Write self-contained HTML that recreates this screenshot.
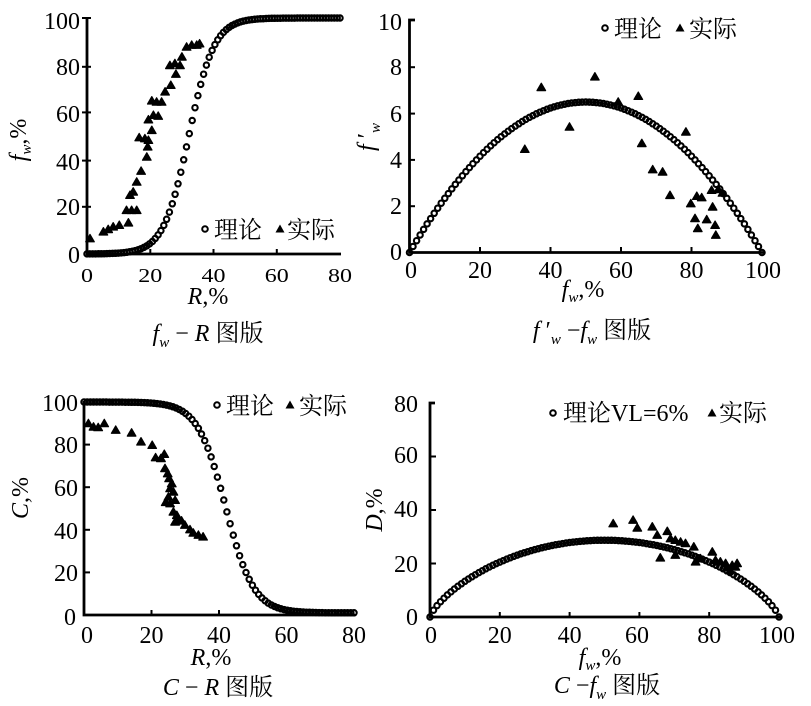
<!DOCTYPE html>
<html><head><meta charset="utf-8">
<style>
html,body{margin:0;padding:0;background:#fff;}
svg{display:block;}
text{font-family:"Liberation Serif","Noto Serif CJK SC",serif;fill:#000;font-size:24px;}
.cj{font-family:"Liberation Serif","Noto Serif CJK SC",serif;}
.ax{stroke:#000;stroke-width:2.8;fill:none;}
.tk{stroke:#000;stroke-width:2;}
</style></head><body>
<svg id="s" width="811" height="706" viewBox="0 0 811 706" xmlns="http://www.w3.org/2000/svg">
<rect width="811" height="706" fill="#fff"/>

<!-- ============ Chart 1: fw - R ============ -->
<path class="ax" d="M87,17 L87,254 L341,254"/>
<g class="tk">
<line x1="82" y1="18" x2="91" y2="18"/>
<line x1="82" y1="66.8" x2="91" y2="66.8"/>
<line x1="82" y1="112.4" x2="91" y2="112.4"/>
<line x1="82" y1="160.6" x2="91" y2="160.6"/>
<line x1="82" y1="206.8" x2="91" y2="206.8"/>
<line x1="150.3" y1="249" x2="150.3" y2="254"/>
<line x1="213.5" y1="249" x2="213.5" y2="254"/>
<line x1="276.8" y1="249" x2="276.8" y2="254"/>
</g>
<g text-anchor="end">
<text x="80" y="29">100</text>
<text x="80" y="75">80</text>
<text x="80" y="122">60</text>
<text x="80" y="170">40</text>
<text x="80" y="215">20</text>
<text x="80" y="263">0</text>
</g>
<g transform="translate(0,282) scale(1,0.82)" text-anchor="middle">
<text x="87" y="0">0</text>
<text x="150.3" y="0">20</text>
<text x="213.5" y="0">40</text>
<text x="276.8" y="0">60</text>
<text x="340" y="0">80</text>
</g>
<text x="208" y="304" text-anchor="middle" font-size="23"><tspan font-style="italic">R</tspan>,%</text>
<text x="208" y="341" text-anchor="middle" class="cj"><tspan font-style="italic">f</tspan><tspan font-style="italic" font-size="15" dy="6">w</tspan><tspan dy="-6"> − </tspan><tspan font-style="italic">R</tspan> 图版</text>
<text transform="translate(26,140) rotate(-90)" text-anchor="middle" font-size="23"><tspan font-style="italic">f</tspan><tspan font-style="italic" font-size="15" dy="5">w</tspan><tspan dy="-5">,%</tspan></text>
<circle cx="205" cy="229" r="2.8" fill="none" stroke="#000" stroke-width="2"/>
<text x="214" y="238" class="cj">理论</text>
<path d="M275.5,232.5 L280,224.5 L284.5,232.5Z" fill="#000"/>
<text x="287" y="238" class="cj">实际</text>

<!-- ============ Chart 2: f'w - fw ============ -->
<path class="ax" d="M415,20 L409.5,20 L409.5,252.5 L764,252.5"/>
<g class="tk">
<line x1="409.5" y1="67.2" x2="415" y2="67.2"/>
<line x1="409.5" y1="113.6" x2="415" y2="113.6"/>
<line x1="409.5" y1="159.9" x2="415" y2="159.9"/>
<line x1="409.5" y1="206.2" x2="415" y2="206.2"/>
<line x1="480" y1="247" x2="480" y2="252.5"/>
<line x1="550.5" y1="247" x2="550.5" y2="252.5"/>
<line x1="621" y1="247" x2="621" y2="252.5"/>
<line x1="691.5" y1="247" x2="691.5" y2="252.5"/>
</g>
<g text-anchor="end">
<text x="402" y="30">10</text>
<text x="402" y="75">8</text>
<text x="402" y="122">6</text>
<text x="402" y="168">4</text>
<text x="402" y="214">2</text>
<text x="402" y="260">0</text>
</g>
<g text-anchor="middle">
<text x="411" y="278">0</text>
<text x="480" y="278">20</text>
<text x="550.5" y="278">40</text>
<text x="621" y="278">60</text>
<text x="691.5" y="278">80</text>
<text x="763" y="278">100</text>
</g>
<text x="583" y="297" text-anchor="middle" font-size="23"><tspan font-style="italic">f</tspan><tspan font-style="italic" font-size="15" dy="5">w</tspan><tspan dy="-5">,%</tspan></text>
<text x="592" y="338" text-anchor="middle" class="cj"><tspan font-style="italic">f</tspan> ′<tspan font-style="italic" font-size="15" dy="6">w</tspan><tspan dy="-6"> −</tspan><tspan font-style="italic">f</tspan><tspan font-style="italic" font-size="15" dy="6">w</tspan><tspan dy="-6"> 图版</tspan></text>
<text transform="translate(374,137) rotate(-90)" text-anchor="middle" font-size="23"><tspan font-style="italic">f</tspan> ′<tspan font-style="italic" font-size="15" dy="6">w</tspan></text>
<circle cx="605" cy="28" r="2.8" fill="none" stroke="#000" stroke-width="2"/>
<text x="614" y="37" class="cj">理论</text>
<path d="M675.5,31.5 L680,23.5 L684.5,31.5Z" fill="#000"/>
<text x="689" y="37" class="cj">实际</text>

<!-- ============ Chart 3: C - R ============ -->
<path class="ax" d="M84,401 L84,615 L355,615"/>
<g class="tk">
<line x1="84" y1="444.6" x2="90" y2="444.6"/>
<line x1="84" y1="487.2" x2="90" y2="487.2"/>
<line x1="84" y1="529.8" x2="90" y2="529.8"/>
<line x1="84" y1="572.4" x2="90" y2="572.4"/>
<line x1="151.5" y1="610" x2="151.5" y2="615"/>
<line x1="219" y1="610" x2="219" y2="615"/>
<line x1="286.5" y1="610" x2="286.5" y2="615"/>
</g>
<g text-anchor="end">
<text x="78" y="411">100</text>
<text x="78" y="453">80</text>
<text x="78" y="496">60</text>
<text x="78" y="539">40</text>
<text x="78" y="581">20</text>
<text x="76" y="625">0</text>
</g>
<g text-anchor="middle">
<text x="87" y="643">0</text>
<text x="151.5" y="643">20</text>
<text x="219" y="643">40</text>
<text x="286.5" y="643">60</text>
<text x="354" y="643">80</text>
</g>
<text x="211" y="665" text-anchor="middle" font-size="23"><tspan font-style="italic">R</tspan>,%</text>
<text x="218" y="695" text-anchor="middle" class="cj"><tspan font-style="italic">C</tspan> − <tspan font-style="italic">R</tspan> 图版</text>
<text transform="translate(28,498) rotate(-90)" text-anchor="middle" font-size="23"><tspan font-style="italic">C</tspan>,%</text>
<circle cx="217" cy="405" r="2.8" fill="none" stroke="#000" stroke-width="2"/>
<text x="226" y="414" class="cj">理论</text>
<path d="M285.5,408.5 L290,400.5 L294.5,408.5Z" fill="#000"/>
<text x="299" y="414" class="cj">实际</text>

<!-- ============ Chart 4: D - fw ============ -->
<path class="ax" d="M435,403 L430,403 L430,617 L781,617"/>
<g class="tk">
<line x1="430" y1="456.5" x2="436" y2="456.5"/>
<line x1="430" y1="510" x2="436" y2="510"/>
<line x1="430" y1="563.5" x2="436" y2="563.5"/>
<line x1="499.8" y1="612" x2="499.8" y2="617"/>
<line x1="569.6" y1="612" x2="569.6" y2="617"/>
<line x1="639.4" y1="612" x2="639.4" y2="617"/>
<line x1="709.2" y1="612" x2="709.2" y2="617"/>
</g>
<g text-anchor="end">
<text x="418" y="412">80</text>
<text x="418" y="463">60</text>
<text x="418" y="517">40</text>
<text x="418" y="572">20</text>
<text x="418" y="625">0</text>
</g>
<g text-anchor="middle">
<text x="431" y="643">0</text>
<text x="499.8" y="643">20</text>
<text x="569.6" y="643">40</text>
<text x="637" y="643">60</text>
<text x="709.2" y="643">80</text>
<text x="777" y="643">100</text>
</g>
<text x="600" y="665" text-anchor="middle" font-size="23"><tspan font-style="italic">f</tspan><tspan font-style="italic" font-size="15" dy="5">w</tspan><tspan dy="-5">,%</tspan></text>
<text x="607" y="693" text-anchor="middle" class="cj"><tspan font-style="italic">C</tspan> −<tspan font-style="italic">f</tspan><tspan font-style="italic" font-size="15" dy="6">w</tspan><tspan dy="-6"> 图版</tspan></text>
<text transform="translate(382,510) rotate(-90)" text-anchor="middle" font-size="23"><tspan font-style="italic">D</tspan>,%</text>
<circle cx="553" cy="413" r="2.8" fill="none" stroke="#000" stroke-width="2"/>
<text x="563" y="421" class="cj">理论VL=6%</text>
<path d="M707.5,416.5 L712,408.5 L716.5,416.5Z" fill="#000"/>
<text x="719" y="421" class="cj">实际</text>

<g id="m"></g>
</svg>
<script>
(function(){
var NS="http://www.w3.org/2000/svg";
var g=document.getElementById('m');
function circ(x,y){var c=document.createElementNS(NS,'circle');c.setAttribute('cx',x.toFixed(1));c.setAttribute('cy',y.toFixed(1));c.setAttribute('r','2.7');c.setAttribute('fill','none');c.setAttribute('stroke','#000');c.setAttribute('stroke-width','2.1');g.appendChild(c);}
function tri(x,y){var p=document.createElementNS(NS,'path');p.setAttribute('d','M'+(x-4.3).toFixed(1)+','+(y+3.4).toFixed(1)+' L'+x.toFixed(1)+','+(y-4).toFixed(1)+' L'+(x+4.3).toFixed(1)+','+(y+3.4).toFixed(1)+'Z');p.setAttribute('fill','#000');p.setAttribute('stroke','#000');p.setAttribute('stroke-width','1.2');p.setAttribute('stroke-linejoin','round');g.appendChild(p);}
var i,R,f,p;
/* chart 1 */
function X1(r){return 87+3.1625*r;} function Y1(v){return 254-2.36*v;}
for(i=0;i<90;i++){R=80*i/89;f=100/(1+Math.exp(-0.25*(R-32.2)));circ(X1(R),Y1(f));}
var c1=[[0.95,6.6],[5.2,9.5],[6.7,10.5],[8.3,11.6],[10.2,12.3],[13.1,13.3],[12.5,18.6],[14.1,18.6],[15.7,18.6],[13.6,25],[14.6,26.4],[15.7,30.6],[17.1,35.2],[18.9,41.2],[16.5,49.4],[18.3,49],[19.4,48.3],[19.2,45.5],[20.5,52.5],[19.4,57],[21,58.9],[22.5,58.5],[20.5,65],[22,64.5],[23.6,64.5],[24.7,68.8],[26.5,71.6],[26.2,80],[27.8,80.8],[29.4,80],[28.1,76.3],[30,83.6],[31.5,87.8],[33.1,88.6],[34.7,88.6],[35.6,89.2]];
c1.forEach(function(d){tri(X1(d[0]),Y1(d[1]));});
/* chart 2 */
function X2(v){return 409.5+3.525*v;} function Y2(v){return 252.5-23.15*v;}
for(i=0;i<=100;i++){p=i/100;f=26*p*(1-p);circ(X2(i),Y2(f));}
var c2=[[32.7,4.47],[37.4,7.14],[45.4,5.43],[52.6,7.6],[59.2,6.51],[64.9,6.76],[65.9,4.72],[69,3.59],[71.8,3.49],[73.9,2.48],[78.4,5.22],[79.8,2.12],[81.5,2.44],[82.9,2.38],[81,1.48],[84.3,1.43],[81.8,1.05],[86,1.98],[86.7,1.19],[86.9,0.76],[85.7,2.7],[87.6,2.73],[88.8,2.58]];
c2.forEach(function(d){tri(X2(d[0]),Y2(d[1]));});
/* chart 3 */
function X3(r){return 84+3.375*r;} function Y3(v){return 615-2.13*v;}
for(i=0;i<=85;i++){R=80*i/85;f=1+99/(1+Math.exp(0.24*(R-42)));circ(X3(R),Y3(f));}
var c3=[[1.3,90],[2.8,88.4],[4.2,88.1],[6,90],[9.4,86.9],[14.1,85.6],[16.9,81.4],[20.2,79.8],[21.2,74],[22.8,73.6],[23.8,75.6],[24,68.9],[24.8,66.5],[25.2,64.2],[26,61.8],[25.5,59.5],[26.5,57.9],[25,55.5],[27,54],[25.5,52.4],[24.2,53],[26.5,48.5],[27.5,46.9],[28,44.9],[27,43.8],[28.9,44.3],[29.9,42.3],[31.4,40.2],[32.4,38.6],[33.9,37.6],[35.3,36.8]];
c3.forEach(function(d){tri(X3(d[0]),Y3(d[1]));});
/* chart 4 */
function X4(v){return 430+3.49*v;} function Y4(v){return 617-2.675*v;}
for(i=0;i<=100;i++){p=i/100;f=28.7*Math.pow(4*p*(1-p),0.75);circ(X4(i),Y4(f));}
var c4=[[52.5,35],[58.2,36.3],[59.4,33.4],[63.7,33.8],[65.1,30.7],[68,32.1],[66,22.2],[68.9,29.4],[70.3,28.8],[71.8,28.1],[73.2,27.6],[75.6,26.3],[76.1,20.7],[70.3,23.2],[77.5,21.9],[80.9,24.4],[81.8,21.3],[83.2,20.7],[84.7,20.1],[86.6,19.4],[87.5,18.8],[88,20.1],[85,18.5],[86,17.4]];
c4.forEach(function(d){tri(X4(d[0]),Y4(d[1]));});
})();
</script>
</body></html>
